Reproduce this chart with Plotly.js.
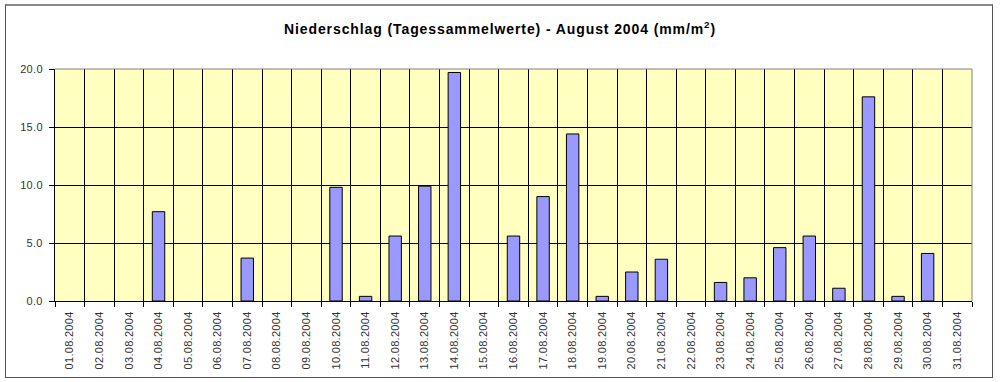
<!DOCTYPE html>
<html>
<head>
<meta charset="utf-8">
<script src="https://cdn.plot.ly/plotly-3.0.1.min.js"></script>
<style>
  html, body { margin: 0; padding: 0; background: #fff; }
  #wrap { position: relative; width: 1000px; height: 382px; }
  #chart { position: absolute; left: 0; top: 0; width: 1000px; height: 382px; }
  #chart .gtitle { letter-spacing: 0.9px; }
  #chart .xtick text, #chart .ytick text { letter-spacing: 0.3px; }
  #frame { position: absolute; left: 5px; top: 4px; width: 986px; height: 371px;
           border: 1px solid #555; border-top: 2px solid #888; pointer-events: none; }
</style>
</head>
<body>
<div id="wrap">
  <div id="chart"></div>
  <div id="frame"></div>
</div>
<script>
const titleText = "Niederschlag (Tagessammelwerte) - August 2004 (mm/m<sup>2</sup>)";

const days = [
  "01.08.2004","02.08.2004","03.08.2004","04.08.2004","05.08.2004","06.08.2004",
  "07.08.2004","08.08.2004","09.08.2004","10.08.2004","11.08.2004","12.08.2004",
  "13.08.2004","14.08.2004","15.08.2004","16.08.2004","17.08.2004","18.08.2004",
  "19.08.2004","20.08.2004","21.08.2004","22.08.2004","23.08.2004","24.08.2004",
  "25.08.2004","26.08.2004","27.08.2004","28.08.2004","29.08.2004","30.08.2004",
  "31.08.2004"
];

const precipitation = [
  0, 0, 0, 7.7, 0, 0,
  3.7, 0, 0, 9.8, 0.4, 5.6,
  9.9, 19.7, 0, 5.6, 9.0, 14.4,
  0.4, 2.5, 3.6, 0, 1.6, 2.0,
  4.6, 5.6, 1.1, 17.6, 0.4, 4.1,
  0
];

const yTicks = [0, 5, 10, 15, 20];

const trace = {
  type: "bar",
  x: days,
  y: precipitation,
  marker: {
    color: "#9999FF",
    line: { color: "#000000", width: precipitation.map(v => (v > 0 ? 1 : 0)) }
  },
  hoverinfo: "x+y"
};

const layout = {
  width: 1000,
  height: 382,
  margin: { l: 55, r: 28, t: 69, b: 81, pad: 0 },
  paper_bgcolor: "#FFFFFF",
  plot_bgcolor: "#FFFFC0",
  bargap: 0.58,
  showlegend: false,
  title: {
    text: titleText,
    x: 0.5, xanchor: "center",
    y: 0.925, yanchor: "middle",
    font: { family: "Liberation Sans, Arial, sans-serif", size: 14, color: "#000", weight: "bold" }
  },
  xaxis: {
    type: "category",
    tickson: "boundaries",
    showgrid: true,
    gridcolor: "#000000",
    gridwidth: 1,
    ticks: "outside",
    ticklen: 5,
    tickcolor: "#000000",
    tickangle: -90,
    ticklabelstandoff: 5,
    tickfont: { family: "Liberation Sans, Arial, sans-serif", size: 11, color: "#333" },
    showline: true,
    linecolor: "#000000",
    linewidth: 1,
    mirror: false,
    fixedrange: true
  },
  yaxis: {
    range: [0, 20],
    tickvals: yTicks,
    tickformat: ".1f",
    showgrid: true,
    gridcolor: "#000000",
    gridwidth: 1,
    zeroline: false,
    ticks: "outside",
    ticklen: 5,
    tickcolor: "#000000",
    ticklabelstandoff: 4,
    tickfont: { family: "Liberation Sans, Arial, sans-serif", size: 11, color: "#333" },
    showline: true,
    linecolor: "#000000",
    linewidth: 1,
    fixedrange: true
  },
  shapes: [
    { type: "line", xref: "paper", yref: "paper", x0: 0, x1: 1, y0: 1, y1: 1,
      line: { color: "#808080", width: 1 } },
    { type: "line", xref: "paper", yref: "paper", x0: 1, x1: 1, y0: 0, y1: 1,
      line: { color: "#808080", width: 1 } }
  ]
};

Plotly.newPlot("chart", [trace], layout, { displayModeBar: false, staticPlot: true });
</script>
</body>
</html>
